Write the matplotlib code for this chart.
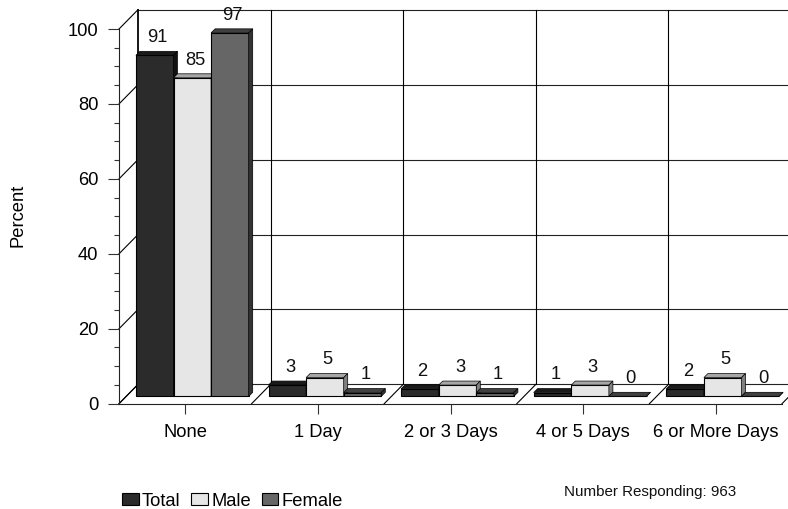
import matplotlib
matplotlib.use("Agg")
import matplotlib.pyplot as plt
from matplotlib.patches import Polygon
from matplotlib.transforms import Affine2D
import numpy as np

plt.rcParams['font.family'] = ['Liberation Sans', 'DejaVu Sans']

categories = ["None", "1 Day", "2 or 3 Days", "4 or 5 Days", "6 or More Days"]
series_names = ["Total", "Male", "Female"]
total = [91, 3, 2, 1, 2]
male = [85, 5, 3, 3, 5]
female = [97, 1, 1, 0, 0]
series_values = [total, male, female]
face_colors = ["#2b2b2b", "#e6e6e6", "#666666"]
top_colors = ["#1a1a1a", "#a6a6a6", "#404040"]
side_colors = ["#111111", "#808080", "#333333"]

W, H = 788, 509
fig = plt.figure(figsize=(W / 100, H / 100), dpi=100, facecolor="white")
L, R, T, B = 119, 782, 29, 403.7
ax = fig.add_axes([L / W, 1 - B / H, (R - L) / W, (B - T) / H])
ax.set_xlim(-0.5, 4.5)
ax.set_ylim(0, 100)
ax.patch.set_alpha(0)

px_x = 5 / (R - L)
px_y = 100 / (B - T)

back = ax.transData + Affine2D().translate(19, 19.3)
lw = 0.8
FS = 13.2

for yv in range(0, 101, 20):
    ax.plot([-0.5, 4.5], [yv, yv], transform=back, color="#222222", lw=lw, clip_on=False, zorder=1)
    ax.plot([-0.5, -0.5 + 19 * px_x], [yv, yv + 19.3 * px_y], color="black", lw=lw, clip_on=False, zorder=1)
for i in range(6):
    xv = i - 0.5
    ax.plot([xv, xv], [0, 100], transform=back, color="black", lw=lw * (1.6 if i == 0 else 1), clip_on=False, zorder=1)
    ax.plot([xv, xv + 19 * px_x], [0, 19.3 * px_y], color="black", lw=lw, clip_on=False, zorder=1)

shift = ax.transData + Affine2D().translate(7, 7.4)
bw = 37.6 * px_x
dx, dy = 4 * px_x, 4 * px_y
xs = np.arange(len(categories))
for k, vals in enumerate(series_values):
    xk = xs + (k - 1) * bw
    ax.bar(xk, vals, width=bw, color=face_colors[k], edgecolor="black", linewidth=lw,
           transform=shift, clip_on=False, zorder=3 + k)
    for x0, v in zip(xk, vals):
        xl, xr = x0 - bw / 2, x0 + bw / 2
        ax.add_patch(Polygon([(xl, v), (xr, v), (xr + dx, v + dy), (xl + dx, v + dy)],
                             facecolor=top_colors[k], edgecolor="black", linewidth=0.5,
                             transform=shift, clip_on=False, zorder=3 + k))
        ax.add_patch(Polygon([(xr, 0), (xr + dx, dy), (xr + dx, v + dy), (xr, v)],
                             facecolor=side_colors[k], edgecolor="black", linewidth=0.5,
                             transform=shift, clip_on=False, zorder=3 + k))
        ax.annotate(str(v), xy=(x0, v), xycoords=shift, xytext=(2, 9.5), textcoords="offset points",
                    ha="center", va="baseline", fontsize=FS, color="#111111", zorder=10, annotation_clip=False)

for s in ("top", "right"):
    ax.spines[s].set_visible(False)
for s in ("left", "bottom"):
    ax.spines[s].set_linewidth(lw)
    ax.spines[s].set_color("#222222")
ax.set_yticks(range(0, 101, 20))
ax.set_yticks(range(0, 101, 5), minor=True)
ax.set_xticks(xs, categories)
ax.tick_params(axis="y", which="major", length=8, width=lw, pad=7, labelsize=FS, color="#333333")
ax.tick_params(axis="y", which="minor", length=3.6, width=lw, color="#333333")
ax.tick_params(axis="x", which="major", length=7.2, width=lw, pad=7.7, labelsize=FS, color="#333333")
ax.set_ylabel("Percent", fontsize=FS)
ax.yaxis.set_label_coords(27 / W, 1 - 215 / H, transform=fig.transFigure)

handles = [plt.Rectangle((0, 0), 1, 1, facecolor=c, edgecolor="black", linewidth=0.8) for c in face_colors]
fig.legend(handles, series_names, loc="lower left", bbox_to_anchor=(122 / W, 1 - 509.5 / H),
           bbox_transform=fig.transFigure, ncol=3, frameon=False, fontsize=FS,
           handlelength=0.9, handleheight=0.6, handletextpad=0.18, columnspacing=0.6,
           borderpad=0, borderaxespad=0)

fig.text(564 / W, 1 - 492 / H, "Number Responding: 963", fontsize=10.9, va="center", ha="left", color="#111111")

fig.savefig("out.png", dpi=100, facecolor="white")
